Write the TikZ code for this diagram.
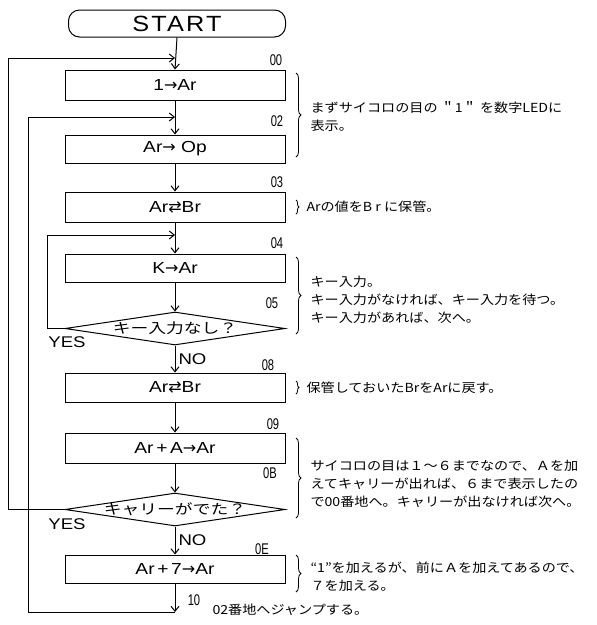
\documentclass[tikz,border=0pt]{standalone}
\usepackage{fontspec}
\setmainfont{Liberation Sans}
\newfontfamily\jp[FakeStretch=1.13]{Noto Sans CJK JP}
\newfontfamily\jpd[FakeStretch=1.27]{Noto Sans CJK JP}
\newfontfamily\lat[FakeStretch=1.2]{Liberation Sans}
\newfontfamily\latsp[FakeStretch=1.15,LetterSpace=10]{Liberation Sans}
\newfontfamily\narrowf[FakeStretch=0.72]{Liberation Sans}
\newfontfamily\symf{DejaVu Sans}
\usetikzlibrary{shapes.geometric,arrows.meta,decorations.pathreplacing}
\begin{document}
\begin{tikzpicture}[x=1pt,y=-1pt,line width=1pt,
  box/.style={draw,minimum width=220pt,minimum height=29pt,inner sep=0pt,font=\lat\fontsize{16}{16}\selectfont},
  dia/.style={draw,diamond,minimum width=220pt,minimum height=33pt,inner sep=0pt},
  diatext/.style={font=\jpd\fontsize{14}{14}\selectfont,inner sep=0pt},
  arr/.style={-{Straight Barb[length=5pt,width=8pt]}},
  addr/.style={font=\narrowf\fontsize{15.5}{15.5}\selectfont,inner sep=0pt},
  note/.style={font=\jp\fontsize{12.5}{18}\selectfont,anchor=west,inner sep=0pt,align=left},
  yn/.style={font=\lat\fontsize{15.5}{15.5}\selectfont,inner sep=0pt},
  br/.style={decorate,decoration={brace,amplitude=5pt},line width=0.8pt},
  sbr/.style={decorate,decoration={brace,amplitude=3pt},line width=0.8pt}]
\useasboundingbox (0,0) rectangle (597,625);

% nodes
\node[draw,rounded corners=11pt,minimum width=217pt,minimum height=27pt,inner sep=0pt,
      font=\latsp\fontsize{22}{22}\selectfont] (start) at (177,23.5) {START};
\node[box,minimum height=30pt] (b00) at (175,85) {1{\symf →}Ar};
\node[box,minimum height=28pt] (b02) at (175,149) {Ar{\symf →} Op};
\node[box,minimum height=30pt] (b03) at (175,207) {Ar{\symf ⇄}Br};
\node[box,minimum height=28pt] (b04) at (175,268) {K{\symf →}Ar};
\node[dia] (d05) at (175,328.5) {};
\node[diatext] (t05) at (d05.center) {キー入力なし？};
\node[box,minimum height=29pt] (b08) at (175,387.5) {Ar{\symf ⇄}Br};
\node[box,minimum height=30pt] (b09) at (175,448) {Ar\,+\,A{\symf →}Ar};
\node[dia] (d0B) at (175,509.5) {};
\node[diatext] (t0B) at (d0B.center) {キャリーがでた？};
\node[box,minimum height=28pt] (b0E) at (175,569) {Ar\,+\,7{\symf →}Ar};

% junctions
\coordinate (j00) at (175,58);
\coordinate (j02) at (175,117);
\coordinate (j04) at (175,235);
\coordinate (jend) at (175,612);
\coordinate (oL1) at (8,58);
\coordinate (oL2) at (8,509.5);
\coordinate (iL1) at (28,117);
\coordinate (iL2) at (28,612);
\coordinate (kL1) at (47,235);
\coordinate (kL2) at (47,328.5);

% connectors
\draw[arr] (start.south) -- (b00.north);
\draw[arr] (b00.south) -- (b02.north);
\draw[arr] (b02.south) -- (b03.north);
\draw[arr] (b03.south) -- (b04.north);
\draw[arr] (b04.south) -- (d05.north);
\draw[arr] (d05.south) -- node[yn,anchor=west,xshift=3pt] (no1) {NO} (b08.north);
\draw[arr] (b08.south) -- (b09.north);
\draw[arr] (b09.south) -- (d0B.north);
\draw[arr] (d0B.south) -- node[yn,anchor=west,xshift=3pt] (no2) {NO} (b0E.north);
\draw[arr] (b0E.south) -- (jend);
\draw[arr] (d05.west) -- (kL2) -- (kL1) -- (j04);
\draw[arr] (d0B.west) -- (oL2) -- (oL1) -- (j00);
\draw[arr] (jend) -- (iL2) -- (iL1) -- (j02);

\node[yn] (yes1) at (67,342) {YES};
\node[yn] (yes2) at (67,524) {YES};

% addresses
\node[addr] (a00) at (276,60) {00};
\node[addr] (a02) at (277,121) {02};
\node[addr] (a03) at (277,182) {03};
\node[addr] (a04) at (277,243) {04};
\node[addr] (a05) at (272,303) {05};
\node[addr] (a08) at (268,365) {08};
\node[addr] (a09) at (273,424) {09};
\node[addr] (a0B) at (270,473) {0B};
\node[addr] (a0E) at (262,549) {0E};
\node[addr] (a10) at (194,600) {10};

% braces and notes
\draw[br] (296,73) -- (296,157);
\node[note] (n1) at (310,116) {まずサイコロの目の ＂1＂ を数字LEDに\\表示。};
\draw[sbr] (296,200) -- (296,214);
\node[note] (n2) at (306,207) {Arの値をB r に保管。};
\draw[br] (296,257) -- (296,334);
\node[note] (n3) at (310,300) {キー入力。\\キー入力がなければ、キー入力を待つ。\\キー入力があれば、次へ。};
\draw[sbr] (296,381) -- (296,394);
\node[note] (n4) at (306,387.5) {保管しておいたBrをArに戻す。};
\draw[br] (296,438) -- (296,518);
\node[note] (n5) at (310,484) {サイコロの目は１～６までなので、Ａを加\\えてキャリーが出れば、６まで表示したの\\で00番地へ。キャリーが出なければ次へ。};
\draw[br] (296,555) -- (296,592);
\node[note] (n6) at (310,577) {“1”を加えるが、前にＡを加えてあるので、\\７を加える。};
\node[note] (n7) at (212,610) {02番地へジャンプする。};
\end{tikzpicture}
\end{document}
